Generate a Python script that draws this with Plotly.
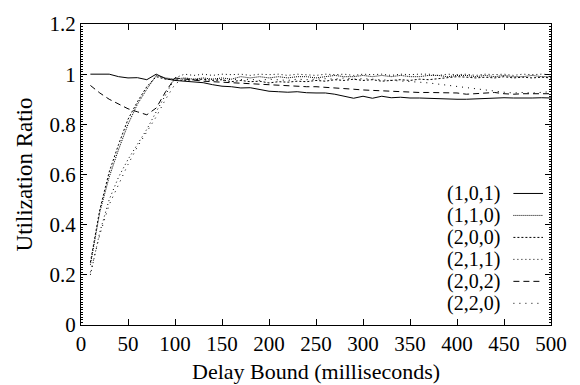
import plotly.graph_objects as go

delay = list(range(10, 510, 10))

s101 = [1.0, 1.0, 1.0, 0.99, 0.985, 0.986, 0.978, 1.0, 0.982, 0.975,
        0.972, 0.97, 0.966, 0.958, 0.952, 0.95, 0.945, 0.946, 0.94, 0.932,
        0.93, 0.928, 0.93, 0.926, 0.925, 0.925, 0.92, 0.912, 0.904, 0.912,
        0.904, 0.912, 0.906, 0.908, 0.905, 0.905, 0.903, 0.902, 0.9, 0.9,
        0.9, 0.902, 0.903, 0.905, 0.906, 0.905, 0.904, 0.905, 0.906, 0.905]
s110 = [0.24, 0.45, 0.59, 0.70, 0.80, 0.88, 0.94, 0.995, 0.985, 0.98,
        0.985, 0.98, 0.985, 0.98, 0.985, 0.98, 0.99, 0.985, 0.99, 0.985,
        0.99, 0.985, 0.99, 0.99, 0.985, 0.99, 0.995, 0.99, 0.99, 0.995,
        0.99, 0.995, 0.99, 0.995, 0.99, 0.99, 0.995, 0.995, 0.99, 0.995,
        0.995, 0.99, 0.995, 0.99, 0.995, 0.99, 0.99, 0.995, 0.99, 0.99]
s200 = [0.25, 0.46, 0.61, 0.72, 0.82, 0.89, 0.95, 0.99, 0.98, 0.978,
        0.975, 0.978, 0.98, 0.975, 0.978, 0.97, 0.975, 0.97, 0.972, 0.965,
        0.97, 0.968, 0.972, 0.97, 0.975, 0.972, 0.978, 0.975, 0.98, 0.975,
        0.978, 0.972, 0.975, 0.978, 0.975, 0.98, 0.978, 0.982, 0.985, 0.99,
        0.988, 0.985, 0.988, 0.985, 0.99, 0.985, 0.988, 0.985, 0.988, 0.985]
s211 = [0.20, 0.37, 0.50, 0.59, 0.66, 0.72, 0.78, 0.85, 0.92, 0.985,
        1.0, 0.995, 1.0, 0.995, 1.0, 0.998, 1.0, 0.995, 1.0, 0.998,
        1.0, 0.995, 1.0, 0.998, 0.995, 1.0, 0.998, 1.0, 0.995, 1.0,
        0.998, 1.0, 0.995, 1.0, 0.998, 1.0, 1.0, 0.995, 1.0, 0.998,
        1.0, 0.995, 1.0, 0.998, 1.0, 0.995, 1.0, 0.998, 1.0, 0.998]
s202 = [0.955, 0.925, 0.90, 0.88, 0.862, 0.85, 0.838, 0.865, 0.93, 0.985,
        0.98, 0.975, 0.972, 0.97, 0.968, 0.965, 0.962, 0.96, 0.96, 0.958,
        0.955, 0.953, 0.952, 0.95, 0.95, 0.948, 0.945, 0.942, 0.94, 0.937,
        0.935, 0.935, 0.934, 0.932, 0.928, 0.927, 0.927, 0.927, 0.927, 0.925,
        0.92, 0.922, 0.925, 0.927, 0.922, 0.92, 0.922, 0.923, 0.923, 0.922]
s220 = [0.21, 0.36, 0.48, 0.56, 0.64, 0.71, 0.77, 0.83, 0.90, 0.96,
        0.985, 0.98, 0.975, 0.98, 0.975, 0.98, 0.978, 0.98, 0.975, 0.98,
        0.978, 0.975, 0.98, 0.978, 0.98, 0.982, 0.98, 0.985, 0.98, 0.982,
        0.98, 0.978, 0.975, 0.975, 0.972, 0.968, 0.965, 0.96, 0.955, 0.95,
        0.945, 0.94, 0.935, 0.93, 0.928, 0.925, 0.927, 0.925, 0.928, 0.93]

names = ["(1,0,1)", "(1,1,0)", "(2,0,0)", "(2,1,1)", "(2,0,2)", "(2,2,0)"]
series = [s101, s110, s200, s211, s202, s220]
dashes = ["solid", "1px,1px", "2px,2px", "1px,3px", "6px,4px", "1px,5px"]

FONT = "Liberation Serif"

fig = go.Figure()
for nm, ys, d in zip(names, series, dashes):
    fig.add_trace(go.Scatter(x=delay, y=ys, mode="lines", name=nm,
                             line=dict(color="black", width=1, dash=d),
                             showlegend=False))

# legend: text on the left, line sample on the right
row_y0 = 0.072
row_step = 0.073
for i, (nm, d) in enumerate(zip(names, dashes)):
    yy = row_y0 + (5 - i) * row_step
    fig.add_annotation(x=0.896, y=yy, xref="paper", yref="paper", text=nm,
                       showarrow=False, xanchor="right", yanchor="middle",
                       font=dict(family=FONT, size=20, color="black"))
    fig.add_shape(type="line", xref="paper", yref="paper",
                  x0=0.92, x1=0.983, y0=yy, y1=yy,
                  line=dict(color="black", width=1, dash=d))

fig.update_layout(
    width=580, height=385,
    margin=dict(l=81, r=29, t=18, b=60),
    paper_bgcolor="white", plot_bgcolor="white",
    font=dict(family=FONT, size=20, color="black"),
    xaxis=dict(range=[0, 500], tickvals=list(range(0, 550, 50)),
               ticks="inside", ticklen=6, tickcolor="black",
               showline=True, linecolor="black", linewidth=1, mirror="ticks",
               showgrid=False, zeroline=False,
               tickfont=dict(family=FONT, size=21)),
    yaxis=dict(range=[0, 1.2], tickvals=[0, 0.2, 0.4, 0.6, 0.8, 1, 1.2],
               ticktext=["0", "0.2", "0.4", "0.6", "0.8", "1", "1.2"],
               ticks="inside", ticklen=6, tickcolor="black",
               showline=True, linecolor="black", linewidth=1, mirror="ticks",
               showgrid=False, zeroline=False,
               minor=dict(dtick=0.01, ticks="inside", ticklen=2, tickcolor="black",
                          showgrid=False),
               tickfont=dict(family=FONT, size=21),
               title=dict(text="Utilization Ratio",
                          font=dict(family=FONT, size=23), standoff=10)),
)

# x-axis title placed as an annotation just under the tick labels
fig.add_annotation(x=0.5, y=-0.153, xref="paper", yref="paper",
                   text="Delay Bound (milliseconds)", showarrow=False,
                   xanchor="center", yanchor="middle",
                   font=dict(family=FONT, size=22, color="black"))

# caption, mostly hidden below the bottom edge as in the reference
fig.add_annotation(x=0.36, y=-0.235, xref="paper", yref="paper",
                   text="(b)  Near Synchronous", showarrow=False,
                   xanchor="center", yanchor="top",
                   font=dict(family=FONT, size=22, color="black"))

fig.write_html("out.html")
